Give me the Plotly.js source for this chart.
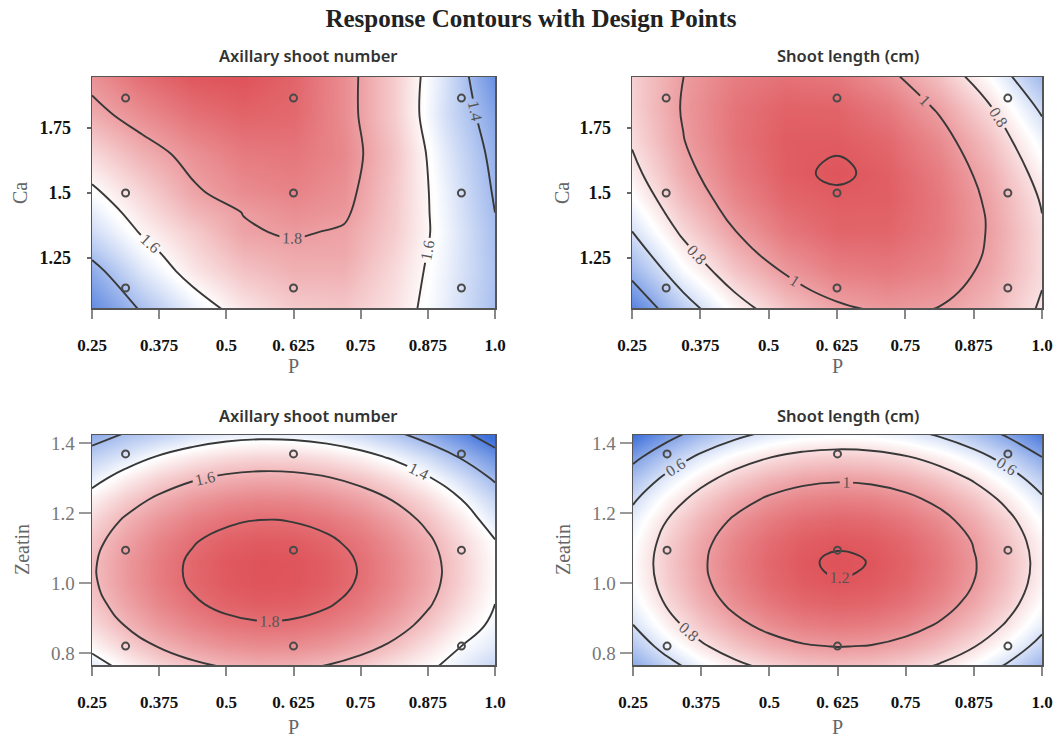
<!DOCTYPE html>
<html>
<head>
<meta charset="utf-8">
<script src="https://cdn.plot.ly/plotly-3.0.1.min.js"></script>
<style>html,body{margin:0;padding:0;background:#fff;}#chart{width:1062px;height:740px;}</style>
</head>
<body>
<div id="chart"></div>
<script>
// ---------- data ----------
const pGrid = [0.25, 0.34375, 0.4375, 0.53125, 0.625, 0.71875, 0.8125, 0.90625, 1.0];
const pGridFine = [0.25, 0.3125, 0.375, 0.4375, 0.5, 0.5625, 0.625, 0.6875, 0.75, 0.8125, 0.875, 0.9375, 1.0];

// Axillary shoot number vs P and Ca (top-left)
const caGridAxn = [1.05, 1.2, 1.275, 1.35, 1.425, 1.5, 1.65, 1.8, 1.95];
const axnPCa = [
  [1.27, 1.41, 1.54, 1.64, 1.70, 1.71, 1.65, 1.54, 1.41],
  [1.36, 1.52, 1.64, 1.72, 1.76, 1.76, 1.67, 1.55, 1.42],
  [1.43, 1.565, 1.67, 1.755, 1.78, 1.78, 1.685, 1.555, 1.415],
  [1.49, 1.61, 1.70, 1.79, 1.81, 1.79, 1.70, 1.56, 1.41],
  [1.535, 1.645, 1.745, 1.802, 1.835, 1.815, 1.705, 1.555, 1.40],
  [1.58, 1.68, 1.785, 1.84, 1.86, 1.83, 1.71, 1.55, 1.39],
  [1.67, 1.76, 1.83, 1.88, 1.89, 1.85, 1.72, 1.53, 1.37],
  [1.77, 1.84, 1.90, 1.93, 1.92, 1.84, 1.70, 1.50, 1.34],
  [1.83, 1.91, 1.96, 1.97, 1.93, 1.84, 1.70, 1.51, 1.28]
];

// Shoot length (cm) vs P and Ca (top-right)
const caGridSl = [1.05, 1.2, 1.35, 1.475, 1.575, 1.7, 1.825, 1.95];
const slPCa = [
  [0.258, 0.523, 0.731, 0.882, 0.976, 1.013, 0.993, 0.916, 0.782],
  [0.446, 0.692, 0.881, 1.013, 1.088, 1.106, 1.066, 0.970, 0.817],
  [0.598, 0.825, 0.995, 1.108, 1.164, 1.162, 1.104, 0.988, 0.816],
  [0.698, 0.909, 1.063, 1.159, 1.185, 1.182, 1.107, 0.976, 0.788],
  [0.760, 0.958, 1.099, 1.183, 1.212, 1.180, 1.092, 0.948, 0.747],
  [0.814, 0.996, 1.121, 1.189, 1.190, 1.154, 1.051, 0.891, 0.674],
  [0.844, 1.010, 1.119, 1.171, 1.166, 1.104, 0.985, 0.809, 0.576],
  [0.848, 0.999, 1.092, 1.128, 1.107, 1.029, 0.894, 0.701, 0.452]
];

// Axillary shoot number vs P and Zeatin (bottom-left)
const zeaGridAxn = [0.76, 0.82, 0.88, 0.94, 1.0, 1.06, 1.12, 1.18, 1.24, 1.30, 1.36, 1.43];
const axnPZea = [
  [1.337, 1.434, 1.511, 1.568, 1.604, 1.620, 1.615, 1.590, 1.545, 1.480, 1.420, 1.350, 1.270],
  [1.434, 1.532, 1.608, 1.665, 1.701, 1.717, 1.712, 1.688, 1.642, 1.577, 1.491, 1.400, 1.340],
  [1.508, 1.605, 1.681, 1.738, 1.774, 1.790, 1.785, 1.761, 1.716, 1.650, 1.564, 1.458, 1.375],
  [1.557, 1.654, 1.731, 1.787, 1.824, 1.839, 1.835, 1.810, 1.765, 1.700, 1.614, 1.508, 1.400],
  [1.583, 1.680, 1.757, 1.813, 1.849, 1.865, 1.861, 1.836, 1.791, 1.726, 1.640, 1.534, 1.415],
  [1.585, 1.682, 1.759, 1.815, 1.851, 1.867, 1.863, 1.838, 1.793, 1.727, 1.642, 1.536, 1.415],
  [1.563, 1.660, 1.737, 1.793, 1.830, 1.845, 1.841, 1.816, 1.771, 1.706, 1.620, 1.514, 1.405],
  [1.518, 1.615, 1.691, 1.748, 1.784, 1.800, 1.795, 1.771, 1.726, 1.660, 1.574, 1.468, 1.342],
  [1.448, 1.545, 1.622, 1.679, 1.715, 1.731, 1.726, 1.701, 1.656, 1.591, 1.505, 1.399, 1.273],
  [1.355, 1.452, 1.529, 1.586, 1.622, 1.638, 1.633, 1.608, 1.563, 1.498, 1.412, 1.306, 1.180],
  [1.260, 1.335, 1.412, 1.469, 1.505, 1.521, 1.516, 1.491, 1.446, 1.381, 1.295, 1.189, 1.063],
  [1.130, 1.200, 1.246, 1.302, 1.339, 1.354, 1.350, 1.325, 1.280, 1.215, 1.129, 1.023, 0.897]
];

// Shoot length (cm) vs P and Zeatin (bottom-right)
const zeaGridSl = [0.76, 0.82, 0.88, 0.94, 1.0, 1.06, 1.12, 1.18, 1.24, 1.30, 1.36, 1.43];
const slPZea = [
  [0.391, 0.540, 0.662, 0.758, 0.828, 0.871, 0.888, 0.878, 0.841, 0.779, 0.689, 0.574, 0.431],
  [0.508, 0.657, 0.780, 0.876, 0.946, 0.989, 1.005, 0.995, 0.959, 0.896, 0.807, 0.691, 0.549],
  [0.599, 0.748, 0.871, 0.967, 1.036, 1.080, 1.096, 1.086, 1.050, 0.987, 0.898, 0.782, 0.640],
  [0.663, 0.812, 0.935, 1.031, 1.100, 1.144, 1.160, 1.150, 1.114, 1.051, 0.962, 0.846, 0.704],
  [0.700, 0.849, 0.972, 1.068, 1.138, 1.181, 1.197, 1.187, 1.151, 1.088, 0.999, 0.883, 0.741],
  [0.711, 0.860, 0.982, 1.078, 1.148, 1.191, 1.210, 1.198, 1.161, 1.099, 1.009, 0.894, 0.751],
  [0.694, 0.843, 0.966, 1.062, 1.131, 1.175, 1.191, 1.181, 1.145, 1.082, 0.993, 0.877, 0.735],
  [0.651, 0.800, 0.922, 1.018, 1.088, 1.131, 1.148, 1.138, 1.101, 1.039, 0.949, 0.834, 0.691],
  [0.580, 0.729, 0.852, 0.948, 1.018, 1.061, 1.077, 1.068, 1.031, 0.968, 0.879, 0.763, 0.621],
  [0.483, 0.632, 0.755, 0.851, 0.920, 0.964, 0.980, 0.970, 0.934, 0.871, 0.782, 0.666, 0.524],
  [0.359, 0.508, 0.631, 0.727, 0.796, 0.840, 0.856, 0.846, 0.810, 0.747, 0.658, 0.542, 0.400],
  [0.181, 0.330, 0.452, 0.548, 0.618, 0.661, 0.678, 0.668, 0.631, 0.569, 0.479, 0.364, 0.221]
];

// design points
const designP = [0.3125, 0.625, 0.9375];
const designCa = [1.135, 1.5, 1.865];
const designZeatin = [0.82, 1.094, 1.369];

// tick labels
const pTickVals = [0.25, 0.375, 0.5, 0.625, 0.75, 0.875, 1.0];
const pTickText = ['0.25', '0.375', '0.5', '0. 625', '0.75', '0.875', '1.0'];
const caTickVals = [1.25, 1.5, 1.75];
const caTickText = ['1.25', '1.5', '1.75'];
const zeaTickVals = [0.8, 1.0, 1.2, 1.4];
const zeaTickText = ['0.8', '1.0', '1.2', '1.4'];

const panelTitles = ['Axillary shoot number', 'Shoot length (cm)', 'Axillary shoot number', 'Shoot length (cm)'];

// ---------- styling ----------
const W = 1062, H = 740;
const cs = [[0, 'rgb(62,112,218)'], [0.5, 'rgb(255,255,255)'], [1, 'rgb(222,82,88)']];
const serif = 'Liberation Serif, Times New Roman, serif';

function contourTrace(x, y, z, xa, ya, start, end, zmin, zmax, smooth) {
  return {
    type: 'contour', x: x, y: y, z: z, xaxis: xa, yaxis: ya,
    colorscale: cs, zmin: zmin, zmax: zmax, zauto: false, showscale: false,
    contours: {start: start, end: end + 1e-9, size: 0.2, coloring: 'heatmap', showlabels: true,
      labelfont: {family: serif, size: 16, color: '#555'}},
    line: {color: '#383838', width: 1.9, smoothing: smooth},
    hoverinfo: 'skip'
  };
}

function designTrace(px, py, xa, ya) {
  const xs = [], ys = [];
  for (const yv of py) for (const xv of px) { xs.push(xv); ys.push(yv); }
  return {
    type: 'scatter', mode: 'markers', x: xs, y: ys, xaxis: xa, yaxis: ya,
    marker: {symbol: 'circle-open', size: 7, color: '#4a4a4a', line: {width: 2, color: '#4a4a4a'}},
    hoverinfo: 'skip', showlegend: false
  };
}

const data = [
  contourTrace(pGrid, caGridAxn, axnPCa, 'x', 'y', 1.2, 2.0, 1.2, 1.97, 1),
  contourTrace(pGrid, caGridSl, slPCa, 'x2', 'y2', 0.4, 1.2, 0.2, 1.22, 1.3),
  contourTrace(pGridFine, zeaGridAxn, axnPZea, 'x3', 'y3', 1.0, 1.8, 0.95, 1.87, 1.3),
  contourTrace(pGridFine, zeaGridSl, slPZea, 'x4', 'y4', 0.4, 1.2, 0.2, 1.21, 1.3),
  designTrace(designP, designCa, 'x', 'y'),
  designTrace(designP, designCa, 'x2', 'y2'),
  designTrace(designP, designZeatin, 'x3', 'y3'),
  designTrace(designP, designZeatin, 'x4', 'y4')
];

function xAxis(d0, d1, anchor) {
  return {
    domain: [d0 / W, d1 / W], anchor: anchor, range: [0.25, 1.0],
    tickmode: 'array', tickvals: pTickVals, ticktext: pTickText,
    ticks: 'outside', ticklen: 9, tickwidth: 2, tickcolor: '#888',
    ticklabelstandoff: 12,
    tickfont: {family: serif, size: 17, color: '#111', weight: 'bold'},
    showline: true, mirror: true, linecolor: '#555', linewidth: 1.5,
    showgrid: false, zeroline: false, fixedrange: true
  };
}
function yAxisTop(anchor) {
  return {
    domain: [1 - 308 / H, 1 - 77 / H], anchor: anchor, range: [1.058, 1.946],
    tickmode: 'array', tickvals: caTickVals, ticktext: caTickText,
    ticks: 'outside', ticklen: 4, tickwidth: 2, tickcolor: '#666',
    ticklabelstandoff: 12,
    tickfont: {family: serif, size: 18, color: '#111', weight: 'bold'},
    showline: true, mirror: true, linecolor: '#555', linewidth: 1.5,
    showgrid: false, zeroline: false, fixedrange: true
  };
}
function yAxisBot(anchor) {
  return {
    domain: [1 - 665 / H, 1 - 435 / H], anchor: anchor, range: [0.766, 1.423],
    tickmode: 'array', tickvals: zeaTickVals, ticktext: zeaTickText,
    ticks: 'outside', ticklen: 12, tickwidth: 2, tickcolor: '#999',
    ticklabelstandoff: 0,
    tickfont: {family: serif, size: 19, color: '#777'},
    showline: true, mirror: true, linecolor: '#555', linewidth: 1.5,
    showgrid: false, zeroline: false, fixedrange: true
  };
}

const ann = [];
const titlePos = [[308, 55], [848, 55], [308, 415], [848, 415]];
panelTitles.forEach((t, i) => {
  ann.push({text: t, xref: 'paper', yref: 'paper', x: titlePos[i][0] / W, y: 1 - titlePos[i][1] / H,
    xanchor: 'center', yanchor: 'middle', showarrow: false,
    font: {family: 'Noto Sans, Open Sans, sans-serif', size: 16.5, color: '#333', weight: 600}});
});
// axis titles
const axTitleFont = {family: serif, size: 20, color: '#666'};
[[293, 366], [837, 366], [293, 727], [837, 727]].forEach(p => {
  ann.push({text: 'P', xref: 'paper', yref: 'paper', x: p[0] / W, y: 1 - p[1] / H,
    xanchor: 'center', yanchor: 'middle', showarrow: false, font: axTitleFont});
});
[[20, 193, 'Ca'], [562, 193, 'Ca'], [22, 550, 'Zeatin'], [563, 550, 'Zeatin']].forEach(p => {
  ann.push({text: p[2], xref: 'paper', yref: 'paper', x: p[0] / W, y: 1 - p[1] / H, textangle: -90,
    xanchor: 'center', yanchor: 'middle', showarrow: false, font: axTitleFont});
});

const layout = {
  width: W, height: H,
  margin: {l: 0, r: 0, t: 0, b: 0},
  paper_bgcolor: '#fff', plot_bgcolor: '#fff',
  showlegend: false,
  title: {text: 'Response Contours with Design Points', x: 0.5, xanchor: 'center', y: 1 - 18 / H, yanchor: 'middle',
    font: {family: serif, size: 25, color: '#222', weight: 'bold'}},
  xaxis: xAxis(92, 495, 'y'),
  yaxis: yAxisTop('x'),
  xaxis2: xAxis(632, 1042, 'y2'),
  yaxis2: yAxisTop('x2'),
  xaxis3: xAxis(92, 495, 'y3'),
  yaxis3: yAxisBot('x3'),
  xaxis4: xAxis(633, 1042, 'y4'),
  yaxis4: yAxisBot('x4'),
  annotations: ann
};

Plotly.newPlot('chart', data, layout, {displayModeBar: false, staticPlot: true});
</script>
</body>
</html>
